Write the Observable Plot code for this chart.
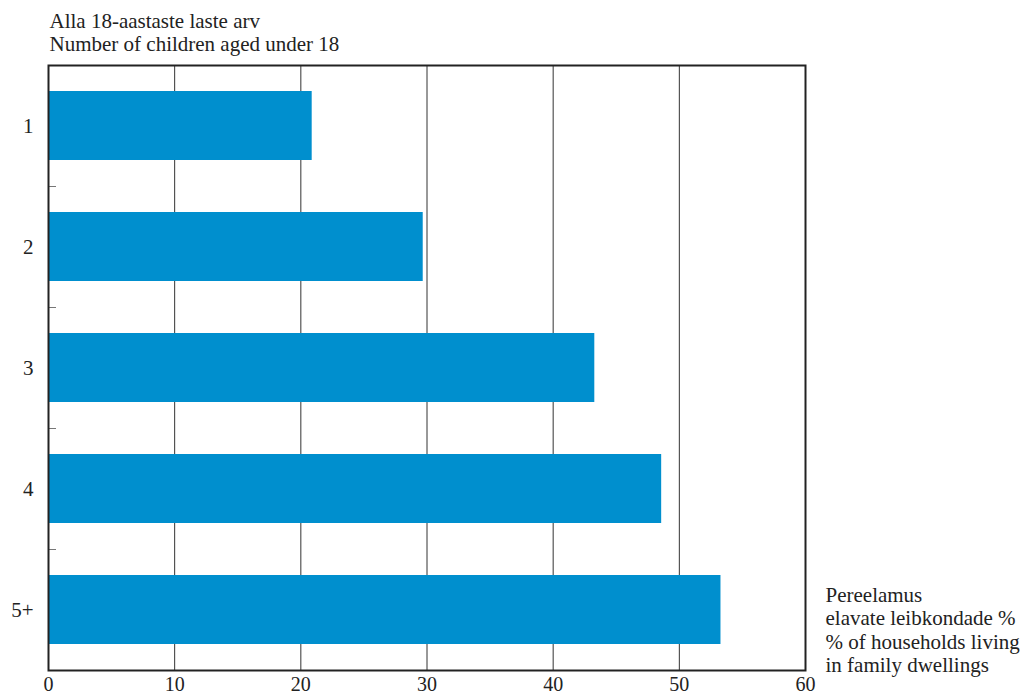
<!DOCTYPE html>
<html>
<head>
<meta charset="utf-8">
<script src="https://cdn.jsdelivr.net/npm/d3@7"></script>
<script src="https://cdn.jsdelivr.net/npm/@observablehq/plot@0.6"></script>
<style>
  html, body { margin: 0; padding: 0; background: #fff; }
  #chart svg { display: block; }
</style>
</head>
<body>
<div id="chart"></div>
<script>
const categories = ["1", "2", "3", "4", "5+"];
const values = [20.9, 29.7, 43.3, 48.6, 53.3];
const xTicks = [0, 10, 20, 30, 40, 50, 60];
const gridTicks = [10, 20, 30, 40, 50];
const titleLines = ["Alla 18-aastaste laste arv", "Number of children aged under 18"];
const noteLines = ["Pereelamus", "elavate leibkondade %", "% of households living", "in family dwellings"];

const data = categories.map((c, i) => ({category: c, value: values[i]}));

const font = "'Liberation Serif', 'Times New Roman', serif";

// small inner tick marks at the boundaries between category bands
function bandBoundaryTicks(index, scales, values, dims) {
  const g = d3.create("svg:g").attr("stroke", "#777").attr("stroke-width", 1);
  const y = scales.y;
  const bw = y.bandwidth();
  const x0 = scales.x(0);
  for (let i = 0; i < categories.length - 1; i++) {
    const yy = Math.round((y(categories[i]) + bw + y(categories[i + 1])) / 2) + 0.5;
    g.append("line")
      .attr("x1", x0).attr("x2", x0 + 8)
      .attr("y1", yy).attr("y2", yy);
  }
  return g.node();
}

const chart = Plot.plot({
  width: 1025,
  height: 699,
  marginLeft: 48,
  marginTop: 65,
  marginRight: 220,
  marginBottom: 29,
  style: {fontFamily: font, fontSize: "21px", color: "#222", background: "#fff"},
  x: {domain: [0, 60]},
  y: {domain: categories, paddingInner: 0.43, paddingOuter: 0.215},
  marks: [
    Plot.gridX(gridTicks, {stroke: "#333", strokeOpacity: 1, strokeWidth: 1}),
    Plot.barX(data, {x: "value", y: "category", fill: "#008fce"}),
    bandBoundaryTicks,
    Plot.frame({stroke: "#222", strokeWidth: 2}),
    Plot.axisX(xTicks, {tickSize: 0, tickPadding: 6, fontSize: 20, fill: "#222", label: null}),
    Plot.axisY({tickSize: 0, tickPadding: 15, fontSize: 21, fill: "#222", label: null}),
    Plot.text([titleLines.join("\n")], {
      frameAnchor: "top-left", textAnchor: "start", lineAnchor: "top",
      dy: -53, dx: 1, lineHeight: 1.06, fontSize: 21, fill: "#222"
    }),
    Plot.text([noteLines.join("\n")], {
      frameAnchor: "bottom-right", textAnchor: "start", lineAnchor: "top",
      dx: 20, dy: -85, lineHeight: 1.11, fontSize: 21, fill: "#222"
    })
  ]
});

document.getElementById("chart").appendChild(chart);
</script>
</body>
</html>
